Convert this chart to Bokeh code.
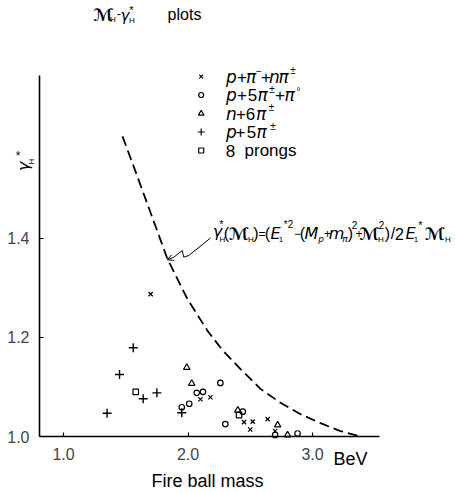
import math
from bokeh.plotting import figure
from bokeh.models import Label, FixedTicker, Range1d, Arrow, OpenHead, PrintfTickFormatter
from bokeh.embed import file_html
from bokeh.resources import INLINE

# ---------------- data ----------------
# p + pi- + n pi+-   (x markers)
cross_mass = [1.70, 2.10, 2.18, 2.45, 2.52, 2.50, 2.64, 2.70]
cross_gamma = [1.287, 1.075, 1.079, 1.029, 1.030, 1.014, 1.035, 1.011]
# p + 5 pi+- + pi0   (circles)
circle_mass = [2.26, 2.07, 2.12, 2.01, 1.95, 2.44, 2.30, 2.70, 2.88]
circle_gamma = [1.108, 1.088, 1.090, 1.066, 1.059, 1.050, 1.025, 1.003, 1.006]
# n + 6 pi+-   (triangles)
tri_mass = [1.99, 2.03, 2.40, 2.72, 2.80]
tri_gamma = [1.139, 1.107, 1.053, 1.023, 1.003]
# p + 5 pi+-   (plus)
plus_mass = [1.56, 1.45, 1.64, 1.75, 1.35, 1.95]
plus_gamma = [1.179, 1.125, 1.076, 1.088, 1.047, 1.048]
# 8 prongs   (squares)
square_mass = [1.58, 2.41]
square_gamma = [1.090, 1.043]
# kinematic limit curve gamma*_H(M_H)
curve_mass = [1.474, 1.554, 1.659, 1.835, 1.996, 2.157, 2.277, 2.422, 2.582, 2.743, 2.904, 3.064, 3.225, 3.386]
curve_gamma = [1.605, 1.551, 1.479, 1.358, 1.277, 1.213, 1.174, 1.136, 1.096, 1.068, 1.045, 1.027, 1.011, 1.000]

x_ticks = [1.0, 2.0, 3.0]
y_ticks = [1.0, 1.2, 1.4]

# ---------------- layout ----------------
W, H = 455, 493
PX_PER_X = 124.5
PX_PER_Y = 496.0
X1_PX = 63      # pixel column of x = 1.0
Y1_PX = 436     # pixel row of y = 1.0
X_START = 1.0 - X1_PX / PX_PER_X
X_END = 1.0 + (W - X1_PX) / PX_PER_X
Y_START = 1.0 - (H - Y1_PX) / PX_PER_Y
Y_END = 1.0 + Y1_PX / PX_PER_Y
AXIS_X = 1.0 - (X1_PX - 39) / PX_PER_X   # where the vertical axis stands
X_AXIS_END = 3.54
Y_AXIS_END = 1.727


def dx(px):
    return 1.0 + (px - X1_PX) / PX_PER_X


def dy(py):
    return 1.0 + (Y1_PX - py) / PX_PER_Y


p = figure(width=W, height=H, x_range=Range1d(X_START, X_END), y_range=Range1d(Y_START, Y_END),
           output_backend="svg", toolbar_location=None, min_border=0)
p.grid.visible = False
p.outline_line_color = None
p.background_fill_color = "white"
p.border_fill_color = "white"

FONT = "Liberation Sans"
MATH = "DejaVu Sans"

xa = p.xaxis[0]
xa.fixed_location = 1.0
xa.ticker = FixedTicker(ticks=x_ticks)
xa.formatter = PrintfTickFormatter(format="%.1f")
xa.bounds = (AXIS_X, X_AXIS_END)
xa.major_tick_in = 4
xa.major_tick_out = 0
xa.minor_tick_line_color = None
xa.axis_line_width = 1.6
xa.major_tick_line_width = 1.2
xa.major_label_text_font = FONT
xa.major_label_text_font_size = "16px"
xa.major_label_standoff = 11

ya = p.yaxis[0]
ya.fixed_location = AXIS_X
ya.ticker = FixedTicker(ticks=y_ticks)
ya.formatter = PrintfTickFormatter(format="%.1f")
ya.bounds = (1.0, Y_AXIS_END)
ya.major_tick_in = 4
ya.major_tick_out = 0
ya.minor_tick_line_color = None
ya.axis_line_width = 1.6
ya.major_tick_line_width = 1.2
ya.major_label_text_font = FONT
ya.major_label_text_font_size = "16px"
ya.major_label_standoff = 10

# curve
p.line(curve_mass, curve_gamma, line_color="black", line_width=1.8, line_dash="10 5")

# data points
mk = dict(fill_color=None, line_color="black", line_width=1.2)
p.scatter(cross_mass, cross_gamma, marker="x", size=6, **mk)
p.scatter(circle_mass, circle_gamma, marker="circle", size=5.5, **mk)
p.scatter(tri_mass, tri_gamma, marker="triangle", size=6.5, **mk)
p.scatter(plus_mass, plus_gamma, marker="cross", size=9, line_width=1.4, fill_color=None, line_color="black")
p.scatter(square_mass, square_gamma, marker="square", size=5.5, **mk)


def put(text, px, py, size, italic=False, font=FONT, angle=0.0, align="center", bold=False):
    style = "normal"
    if italic and bold:
        style = "bold italic"
    elif italic:
        style = "italic"
    elif bold:
        style = "bold"
    p.add_layout(Label(x=dx(px), y=dy(py), text=text, text_font=font,
                       text_font_size=f"{size}px", text_font_style=style,
                       text_align=align, text_baseline="middle", angle=angle,
                       text_color="black"))


# title
put("ℳ", 102.5, 14, 17, italic=True, font=MATH, bold=True)
put("H", 112.5, 19, 8)
put("-", 118.5, 13, 13)
put("γ", 124.5, 15, 15, italic=True, font=MATH)
put("*", 131, 9, 11)
put("H", 131.5, 19.5, 8)
put("plots", 184, 14, 16)

# y axis label (rotated)
put("γ", 23, 166, 16, italic=True, font=MATH, angle=math.pi / 2)
put("H", 30.5, 161, 8, angle=math.pi / 2)
put("*", 17.5, 155, 12)

# x axis label
put("BeV", 350, 458, 18)
put("Fire ball mass", 207, 480, 18)

# legend
leg_x = 200.7
rows_y = [76, 94.5, 113, 131.5, 150]
leg_markers = [("x", 5.5), ("circle", 5), ("triangle", 5.5), ("cross", 7), ("square", 5)]
for (m, s), ry in zip(leg_markers, rows_y):
    p.scatter([dx(leg_x)], [dy(ry)], marker=m, size=s, **mk)

LS, SS = 17, 10
r = rows_y[0]
put("p", 231, r, LS, italic=True, font=MATH)
put("+", 241.5, r, LS)
put("π", 250.5, r, LS, italic=True, font=MATH)
put("−", 258.5, r - 6, SS)
put("+", 265.5, r, LS)
put("n", 274, r, LS, italic=True, font=MATH)
put("π", 283, r, LS, italic=True, font=MATH)
put("±", 292.5, r - 6, SS)
r = rows_y[1]
put("p", 231, r, LS, italic=True, font=MATH)
put("+", 241.5, r, LS)
put("5", 252, r, LS)
put("π", 262, r, LS, italic=True, font=MATH)
put("±", 271.5, r - 6, SS)
put("+", 279.5, r, LS)
put("π", 289, r, LS, italic=True, font=MATH)
put("°", 298, r - 4, SS)
r = rows_y[2]
put("n", 231, r, LS, italic=True, font=MATH)
put("+", 240.5, r, LS)
put("6", 250, r, LS)
put("π", 260.5, r, LS, italic=True, font=MATH)
put("±", 271, r - 6, SS)
r = rows_y[3]
put("p", 231, r, LS, italic=True, font=MATH)
put("+", 240, r, LS)
put("5", 251, r, LS)
put("π", 261, r, LS, italic=True, font=MATH)
put("±", 272.5, r - 6, SS)
r = rows_y[4]
put("8", 230, r, LS)
put("prongs", 270, r, LS)

# formula
fy = 233
FS, FSUB, FSUP, OP = 16, 9, 10, 12
put("γ", 217, fy - 2, FS, italic=True, font=MATH)
put("*", 221, fy - 10, 11)
put("H", 222, fy + 6, 8)
put("(", 226, fy, FS, font=FONT)
put("ℳ", 238, fy, 17, italic=True, font=MATH, bold=True)
put("H", 250.5, fy + 6, 8)
put(")", 255.5, fy, FS, font=FONT)
put("=", 261.5, fy, OP, font=FONT)
put("(", 267, fy, FS, font=FONT)
put("E", 275, fy, FS, italic=True, font=MATH)
put("1", 280.5, fy + 6, 8)
put("*2", 288, fy - 9, FSUP)
put("−", 297, fy, OP, font=FONT)
put("(", 302, fy, FS, font=FONT)
put("M", 311, fy, FS, italic=True, font=MATH)
put("p", 320.5, fy + 5, FSUB, italic=True, font=MATH)
put("+", 327, fy, OP, font=FONT)
put("m", 336, fy, FS, italic=True, font=MATH)
put("π", 344.5, fy + 5, FSUB, italic=True, font=MATH)
put(")", 350, fy, FS, font=FONT)
put("2", 354, fy - 9, FSUP)
put("+", 358.5, fy, OP, font=FONT)
put("ℳ", 368.5, fy, 17, italic=True, font=MATH, bold=True)
put("H", 380.5, fy + 6, 8)
put("2", 381, fy - 9, FSUP)
put(")", 387, fy, FS, font=FONT)
put("/", 392.5, fy, FS, font=FONT)
put("2", 399, fy, FS, font=FONT)
put("E", 410, fy, FS, italic=True, font=MATH)
put("1", 415.5, fy + 6, 8)
put("*", 420, fy - 9, 11)
put("ℳ", 434, fy, 17, italic=True, font=MATH, bold=True)
put("H", 447.5, fy + 6, 8)

# pointer from formula to curve
ptr_px = [210, 188.3, 183.3, 181.7, 173.3]
ptr_py = [237.5, 255, 256.7, 250, 256.7]
p.line([dx(v) for v in ptr_px], [dy(v) for v in ptr_py], line_color="black", line_width=1)
p.add_layout(Arrow(end=OpenHead(size=6, line_width=1), line_width=1,
                   x_start=dx(173.3), y_start=dy(256.7), x_end=dx(166.7), y_end=dy(259.3)))

open("out.html", "w").write(file_html(p, INLINE))
